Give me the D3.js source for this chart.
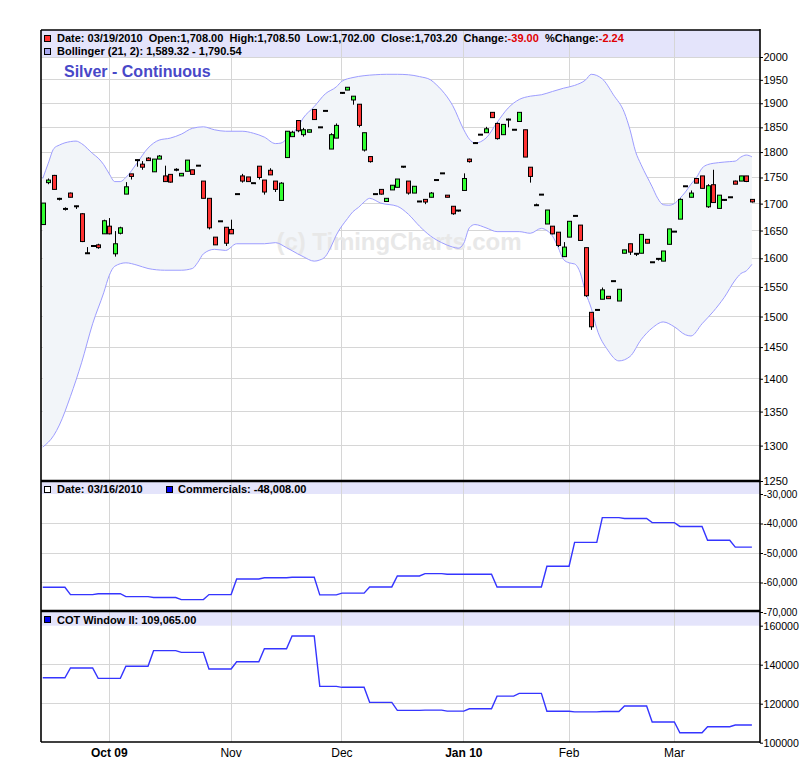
<!DOCTYPE html>
<html>
<head>
<meta charset="utf-8">
<script src="https://cdn.jsdelivr.net/npm/d3@7"></script>
<style>
  body { margin: 0; background: #fff; }
  text { font-family: "Liberation Sans", Arial, sans-serif; }
</style>
</head>
<body>
<svg id="chart" width="800" height="778"></svg>
<script>
// trading days shown, month by month
var sep09 = [15,16,17,18,21,22,23,24,25,28,29,30];
var oct09 = [1,2,5,6,7,8,9,12,13,14,15,16,19,20,21,22,23,26,27,28,29,30];
var nov09 = [2,3,4,5,6,9,10,11,12,13,16,17,18,19,20,23,24,25,27,30];
var dec09 = [1,2,3,4,7,8,9,10,11,14,15,16,17,18,21,22,23,24,28,29,30,31];
var jan10 = [4,5,6,7,8,11,12,13,14,15,19,20,21,22,25,26,27,28,29];
var feb10 = [1,2,3,4,5,8,9,10,11,12,16,17,18,19,22,23,24,25,26];
var mar10 = [1,2,3,4,5,8,9,10,11,12,15,16,17,18,19];

// daily prices (cents)
var open = [1661,1740,1754,1710,1690,1720,1696,1681,1609,1622,1624,1644,1658,1608,1645,1718,1757,1784,1776,1788,
  1761,1786,1753,1756,1766,1753,1762,1765,1773,1743,1710,1638,1667,1656,1652,1718,1753,1751,1739,1772,
  1745,1764,1743,1706,1789,1831,1864,1835,1840,1887,1850,1884,1806,1828,1922,1928,1907,1898,1804,1791,
  1718,1727,1704,1726,1731,1771,1743,1720,1704,1708,1712,1745,1758,1716,1695,1687,1725,1786,1820,1835,
  1839,1881,1858,1835,1866,1845,1862,1845,1770,1697,1717,1662,1658,1647,1603,1638,1677,1660,1619,1507,
  1511,1529,1534,1560,1526,1609,1626,1608,1609,1634,1593,1599,1595,1625,1648,1671,1733,1712,1748,1753,
  1694,1736,1691,1707,1712,1743,1743,1753,1708];
var high = [1701,1748,1755,1711,1693,1721,1696,1682,1620,1622,1626,1670,1673,1649,1657,1741,1757,1785,1782,1790,
  1786,1794,1773,1756,1768,1758,1784,1765,1773,1743,1710,1638,1667,1656,1670,1718,1757,1751,1739,1772,
  1745,1768,1743,1741,1842,1843,1864,1849,1845,1887,1850,1884,1838,1858,1922,1934,1915,1898,1839,1791,
  1718,1727,1710,1735,1747,1772,1743,1733,1704,1708,1722,1745,1758,1716,1695,1688,1758,1787,1820,1835,
  1851,1881,1860,1856,1868,1845,1881,1845,1770,1700,1717,1688,1658,1647,1629,1667,1677,1660,1619,1507,
  1511,1549,1534,1560,1546,1615,1626,1608,1643,1634,1593,1599,1613,1653,1648,1710,1733,1725,1748,1753,
  1737,1765,1716,1707,1712,1744,1753,1753,1708.5];
var low = [1661,1737,1727,1706,1687,1712,1690,1629,1608,1621,1617,1644,1643,1603,1643,1718,1746,1771,1765,1783,
  1761,1786,1742,1740,1762,1753,1762,1756,1773,1710,1652,1624,1667,1622,1644,1718,1740,1742,1739,1746,
  1717,1755,1722,1706,1789,1831,1840,1831,1840,1866,1850,1884,1806,1828,1920,1928,1897,1850,1801,1779,
  1718,1717,1704,1726,1731,1769,1717,1720,1704,1699,1712,1745,1758,1712,1679,1685,1725,1779,1818,1835,
  1839,1870,1825,1835,1850,1845,1862,1790,1740,1697,1717,1662,1643,1620,1603,1638,1677,1632,1533,1478,
  1511,1529,1530,1560,1526,1609,1606,1604,1609,1627,1593,1596,1595,1625,1648,1671,1733,1712,1739,1729,
  1692,1702,1691,1705,1712,1737,1743,1741,1702];
var close = [1701,1745,1727,1709,1690,1712,1695,1630,1609,1622,1619,1668,1644,1626,1655,1732,1752,1784,1770,1783,
  1786,1792,1742,1741,1765,1758,1784,1756,1773,1710,1655,1624,1667,1627,1644,1718,1743,1742,1739,1750,
  1722,1755,1727,1739,1842,1840,1843,1845,1845,1866,1850,1884,1835,1854,1922,1934,1915,1854,1839,1781,
  1718,1718,1710,1735,1747,1771,1720,1733,1704,1703,1720,1745,1758,1712,1681,1687,1748,1781,1818,1835,
  1847,1870,1827,1856,1866,1845,1881,1790,1752,1697,1717,1688,1644,1623,1620,1667,1677,1632,1535,1483,
  1511,1545,1530,1560,1546,1615,1611,1608,1643,1627,1593,1599,1613,1653,1648,1708,1733,1720,1739,1729,
  1734,1702,1716,1707,1712,1737,1753,1742.2,1703.2];

// Bollinger (21, 2): [day number, value]
var bollUpper = [[0,1748],[1,1778],[2,1807],[3,1814],[5,1821],[6,1822],[7,1817],[9,1797],[10,1788],[11,1775],
  [12,1757],[13,1742],[14,1742],[15,1750],[17,1778],[19,1808],[21,1824],[23,1828],[25,1836],[27,1848],
  [29,1851],[31,1845],[33,1842],[36,1842],[38,1838],[40,1830],[42,1817],[43,1818],[44,1826],[46,1850],
  [47,1869],[49,1893],[51,1920],[53,1935],[54,1947],[56,1955],[58,1959],[60,1961],[62,1962],[64,1962],
  [66,1961],[68,1957],[70,1950],[71,1940],[72,1928],[74,1895],[76,1845],[77,1826],[78,1818],[80,1828],
  [82,1860],[84,1890],[86,1908],[88,1915],[90,1918],[92,1925],[94,1932],[96,1938],[98,1950],[99,1962],
  [101,1952],[103,1918],[105,1880],[106,1845],[107,1801],[108,1775],[110,1732],[111,1710],[112,1698],[113,1697],
  [114,1700],[115,1710],[116,1722],[117,1737],[118,1750],[119,1768],[120,1775],[122,1779],[124,1781],[125,1782],
  [126,1790],[127,1794],[128,1790.54]];
var bollLower = [[0,1298],[2,1315],[3,1330],[5,1373],[7,1425],[9,1488],[11,1540],[12,1570],[13,1586],[15,1592],
  [17,1588],[19,1582],[22,1579],[25,1579],[27,1582],[28,1593],[29,1608],[31,1616],[33,1614],[35,1626],
  [40,1626],[42,1628],[44,1619],[46,1608],[47,1603],[49,1595],[50,1597],[51,1603],[52,1620],[53,1642],
  [55,1672],[56,1685],[57,1693],[58,1703],[59,1710],[61,1701],[64,1695],[66,1680],[68,1658],[70,1640],
  [72,1628],[74,1620],[75,1618],[76,1627],[77,1655],[78,1661],[80,1655],[82,1648],[86,1648],[88,1645],
  [90,1654],[91,1650],[92,1640],[93,1620],[94,1598],[95,1592],[96,1590],[97,1575],[98,1540],[99,1514],
  [100,1480],[102,1445],[104,1428],[106,1435],[108,1462],[110,1481],[112,1491],[114,1483],[116,1470],[117,1468],
  [119,1488],[121,1508],[123,1532],[125,1562],[126,1573],[127,1578],[128,1589.32]];

// weekly COT figures (Tuesday report dates)
var cotDates = ["2009-09-15","2009-09-22","2009-09-29","2009-10-06","2009-10-13","2009-10-20","2009-10-27",
  "2009-11-03","2009-11-10","2009-11-17","2009-11-24","2009-12-01","2009-12-08","2009-12-15","2009-12-22",
  "2009-12-29","2010-01-05","2010-01-12","2010-01-19","2010-01-26","2010-02-02","2010-02-09","2010-02-16",
  "2010-02-23","2010-03-02","2010-03-09","2010-03-16"];
var commercials = [-61600,-64100,-63800,-64800,-65100,-65800,-64100,-58800,-58400,-58200,-64200,-63600,-61500,
  -57800,-57000,-57200,-57200,-61500,-61500,-54500,-46400,-38000,-38300,-39700,-41000,-45700,-48008];
var cotWindow = [133300,138300,133000,139200,147200,146300,137800,141500,148200,154700,128900,128400,120700,
  116600,116700,116200,117400,123900,125300,116100,115800,116000,118800,110600,105100,108200,109065];

// axes
var priceTicks = [1250,1300,1350,1400,1450,1500,1550,1600,1650,1700,1750,1800,1850,1900,1950,2000];
var commTicks = [-30000,-40000,-50000,-60000,-70000];
var cotTicks = [100000,120000,140000,160000];
var monthStarts = ["2009-10-01","2009-11-02","2009-12-01","2010-01-04","2010-02-01","2010-03-01"];
var monthLabels = ["Oct 09","Nov","Dec","Jan 10","Feb","Mar"];
var monthBold = [true,false,false,true,false,false];

function pad(n) { return n < 10 ? "0" + n : "" + n; }
var dates = [];
[["2009-09",sep09],["2009-10",oct09],["2009-11",nov09],["2009-12",dec09],
 ["2010-01",jan10],["2010-02",feb10],["2010-03",mar10]].forEach(function(m) {
  m[1].forEach(function(d) { dates.push(m[0] + "-" + pad(d)); });
});

var L = 41, R = 760, T = 30, B = 742;
var sep1 = 481, sep2 = 611;

var x = d3.scaleBand().domain(dates).range([40, 40 + dates.length * 5.54]);
function cx(d) { return x(d) + x.step() / 2; }
var yP = d3.scaleLog().domain([1250, 2000]).range([481, 57]);
var yC = d3.scaleLinear().domain([-70000, -30000]).range([612, 494]);
var yW = d3.scaleLinear().domain([100000, 160000]).range([742.7, 625.7]);

var svg = d3.select("#chart");

// legend strips
var lav = "#e4e4fb";
svg.append("rect").attr("x", L).attr("y", T).attr("width", R - L).attr("height", yP(2000) - T).attr("fill", lav);
svg.append("rect").attr("x", L).attr("y", sep1).attr("width", R - L).attr("height", yC(-30000) - sep1).attr("fill", lav);
svg.append("rect").attr("x", L).attr("y", sep2).attr("width", R - L).attr("height", yW(160000) - sep2).attr("fill", lav);

// grid
var grid = svg.append("g").attr("stroke", "#d6d6d6").attr("stroke-width", 1).attr("shape-rendering", "crispEdges");
function hline(y) { grid.append("line").attr("x1", L).attr("x2", R).attr("y1", y).attr("y2", y); }
priceTicks.slice(1).forEach(function(t) { hline(yP(t)); });
commTicks.slice(1, 4).forEach(function(t) { hline(yC(t)); });
cotTicks.slice(1, 3).forEach(function(t) { hline(yW(t)); });
monthStarts.forEach(function(d) {
  grid.append("line").attr("x1", cx(d)).attr("x2", cx(d)).attr("y1", T).attr("y2", B);
});

// bollinger band
var bandLine = d3.line()
  .x(function(p) { return cx(dates[p[0]]); })
  .y(function(p) { return yP(p[1]); })
  .curve(d3.curveMonotoneX);
var upperPath = bandLine(bollUpper);
var lowerRev = bandLine(bollLower.slice().reverse());
svg.append("path")
  .attr("d", upperPath + "L" + lowerRev.slice(1) + "Z")
  .attr("fill", "#f2f5f9");

// watermark
svg.append("text")
  .attr("x", 399).attr("y", 250)
  .attr("text-anchor", "middle")
  .attr("font-size", "24px").attr("font-weight", "bold")
  .attr("textLength", 245)
  .attr("fill", "#e8e8e8")
  .text("(c) TimingCharts.com");

svg.append("path").attr("d", upperPath).attr("fill", "none").attr("stroke", "#9d9dff").attr("stroke-width", 1);
svg.append("path").attr("d", bandLine(bollLower)).attr("fill", "none").attr("stroke", "#9d9dff").attr("stroke-width", 1);

// candles
var candles = dates.map(function(d, i) {
  return { date: d, o: open[i], h: high[i], l: low[i], c: close[i] };
});
var cg = svg.append("g");
cg.selectAll("line.wick")
  .data(candles)
  .enter()
  .append("line")
  .attr("class", "wick")
  .attr("x1", function(d) { return Math.round(cx(d.date)) + 0.5; })
  .attr("x2", function(d) { return Math.round(cx(d.date)) + 0.5; })
  .attr("y1", function(d) { return yP(d.h); })
  .attr("y2", function(d) { return yP(d.l); })
  .attr("stroke", "black")
  .attr("stroke-width", 1);

cg.selectAll("rect.body")
  .data(candles.filter(function(d) { return Math.abs(yP(d.o) - yP(d.c)) >= 1.5; }))
  .enter()
  .append("rect")
  .attr("class", "body")
  .attr("x", function(d) { return Math.round(cx(d.date)) - 1.5; })
  .attr("width", 4)
  .attr("y", function(d) { return yP(Math.max(d.o, d.c)); })
  .attr("height", function(d) { return Math.abs(yP(d.o) - yP(d.c)); })
  .attr("fill", function(d) { return d.c >= d.o ? "#33ff33" : "#ff3333"; })
  .attr("stroke", "black")
  .attr("stroke-width", 1);

cg.selectAll("line.doji")
  .data(candles.filter(function(d) { return Math.abs(yP(d.o) - yP(d.c)) < 1.5; }))
  .enter()
  .append("line")
  .attr("class", "doji")
  .attr("x1", function(d) { return Math.round(cx(d.date)) - 2; })
  .attr("x2", function(d) { return Math.round(cx(d.date)) + 3; })
  .attr("y1", function(d) { return yP(d.c); })
  .attr("y2", function(d) { return yP(d.c); })
  .attr("stroke", "black")
  .attr("stroke-width", 2);

// COT step lines
function weekly(vals) {
  var pts = [];
  cotDates.forEach(function(d, k) {
    var i = dates.indexOf(d);
    var j = k < cotDates.length - 1 ? dates.indexOf(cotDates[k + 1]) - 1 : dates.length - 1;
    pts.push([dates[i], vals[k]]);
    pts.push([dates[j], vals[k]]);
  });
  return pts;
}
svg.append("path")
  .attr("d", d3.line().x(function(p) { return cx(p[0]); }).y(function(p) { return yC(p[1]); })(weekly(commercials)))
  .attr("fill", "none").attr("stroke", "#3535ff").attr("stroke-width", 1.4);
svg.append("path")
  .attr("d", d3.line().x(function(p) { return cx(p[0]); }).y(function(p) { return yW(p[1]); })(weekly(cotWindow)))
  .attr("fill", "none").attr("stroke", "#3535ff").attr("stroke-width", 1.4);

// frame
var frame = svg.append("g").attr("stroke", "black").attr("fill", "none");
frame.append("line").attr("x1", L).attr("x2", L).attr("y1", T).attr("y2", B).attr("stroke-width", 1.6);
frame.append("line").attr("x1", L).attr("x2", R).attr("y1", T).attr("y2", T).attr("stroke-width", 1.6);
frame.append("line").attr("x1", L).attr("x2", R).attr("y1", B).attr("y2", B).attr("stroke-width", 1.6);
frame.append("line").attr("x1", L).attr("x2", R).attr("y1", sep1).attr("y2", sep1).attr("stroke-width", 2.6);
frame.append("line").attr("x1", L).attr("x2", R).attr("y1", sep2).attr("y2", sep2).attr("stroke-width", 2.6);

// right axes
function rightAxis(scale, ticks, fmt, size) {
  var g = svg.append("g")
    .attr("transform", "translate(" + R + ",0)")
    .call(d3.axisRight(scale).tickValues(ticks).tickFormat(fmt).tickSize(3).tickSizeOuter(0).tickPadding(0.5));
  g.select(".domain").remove();
  g.selectAll("text").attr("font-size", size).attr("font-family", "Liberation Sans, Arial, sans-serif").attr("fill", "black");
  return g;
}
rightAxis(yP, priceTicks, d3.format("d"), "11px");
rightAxis(yC, commTicks, function(v) { return d3.format(",")(v).replace("\u2212", "-"); }, "10px");
rightAxis(yW, cotTicks, d3.format("d"), "10.6px");
svg.append("line").attr("x1", R).attr("x2", R).attr("y1", T - 1).attr("y2", B + 1).attr("stroke", "black").attr("stroke-width", 1.6);

// month labels
svg.selectAll("text.month")
  .data(monthStarts)
  .enter()
  .append("text")
  .attr("class", "month")
  .attr("x", function(d) { return cx(d); })
  .attr("y", 757)
  .attr("text-anchor", "middle")
  .attr("font-size", "12px")
  .attr("font-weight", function(d, i) { return monthBold[i] ? "bold" : "normal"; })
  .text(function(d, i) { return monthLabels[i]; });

// legends
function swatch(x0, y0, fill) {
  svg.append("rect").attr("x", x0 + 0.5).attr("y", y0 + 0.5).attr("width", 6).attr("height", 6)
    .attr("fill", fill).attr("stroke", "black").attr("stroke-width", 1);
}
function legend(x0, y0, parts) {
  var t = svg.append("text").attr("x", x0).attr("y", y0)
    .attr("font-size", "11px").attr("font-weight", "bold").style("white-space", "pre");
  parts.forEach(function(p) {
    t.append("tspan").attr("fill", p[1] || "black").text(p[0]);
  });
}
swatch(44, 35, "#ff3333");
legend(57, 41.5, [["Date: 03/19/2010  Open:1,708.00  High:1,708.50  Low:1,702.00  Close:1,703.20  Change:"],
  ["-39.00", "#e00000"], ["  %Change:"], ["-2.24", "#e00000"]]);
swatch(44, 48, "#a8a8f0");
legend(57, 55, [["Bollinger (21, 2): 1,589.32 - 1,790.54"]]);

svg.append("text").attr("x", 64).attr("y", 77).attr("font-size", "16px").attr("font-weight", "bold")
  .attr("fill", "#4848c8").text("Silver - Continuous");

swatch(44, 486, "#ffffff");
legend(57, 493, [["Date: 03/16/2010"]]);
swatch(166, 486, "#0000ee");
legend(178, 493, [["Commercials: -48,008.00"]]);

swatch(44, 616, "#0000ee");
legend(57, 623.5, [["COT Window II: 109,065.00"]]);
</script>
</body>
</html>
